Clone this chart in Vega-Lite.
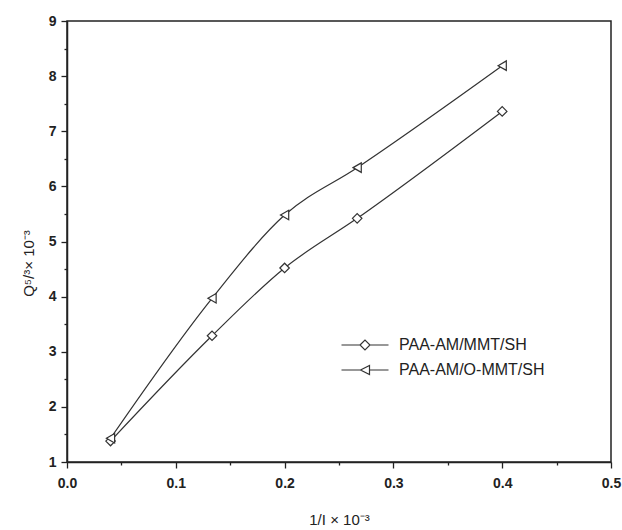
{
  "$schema": "https://vega.github.io/schema/vega-lite/v6.json",
  "autosize": {"type": "none"},
  "width": 544,
  "height": 441,
  "padding": {"left": 67, "top": 21, "right": 11, "bottom": 68},
  "background": "white",
  "config": {
    "font": "Liberation Sans",
    "view": {"stroke": "#222", "strokeWidth": 1.5},
    "axis": {
      "domainColor": "#222",
      "domainWidth": 1.5,
      "tickColor": "#222",
      "tickWidth": 1.3,
      "grid": false,
      "labelFont": "Liberation Sans",
      "labelFontSize": 14,
      "labelFontWeight": "bold",
      "labelColor": "#222",
      "titleFont": "Liberation Sans",
      "titleFontSize": 15,
      "titleFontWeight": "normal",
      "titleColor": "#222"
    }
  },
  "data": {
    "values": [
      {"inv_i": 0.04, "q": 1.38, "series": "PAA-AM/MMT/SH"},
      {"inv_i": 0.1333, "q": 3.29, "series": "PAA-AM/MMT/SH"},
      {"inv_i": 0.2, "q": 4.52, "series": "PAA-AM/MMT/SH"},
      {"inv_i": 0.2667, "q": 5.42, "series": "PAA-AM/MMT/SH"},
      {"inv_i": 0.4, "q": 7.36, "series": "PAA-AM/MMT/SH"},
      {"inv_i": 0.04, "q": 1.43, "series": "PAA-AM/O-MMT/SH"},
      {"inv_i": 0.1333, "q": 3.97, "series": "PAA-AM/O-MMT/SH"},
      {"inv_i": 0.2, "q": 5.48, "series": "PAA-AM/O-MMT/SH"},
      {"inv_i": 0.2667, "q": 6.34, "series": "PAA-AM/O-MMT/SH"},
      {"inv_i": 0.4, "q": 8.19, "series": "PAA-AM/O-MMT/SH"}
    ]
  },
  "encoding": {
    "x": {
      "field": "inv_i",
      "type": "quantitative",
      "scale": {"domain": [0, 0.5], "nice": false, "zero": false},
      "axis": {
        "title": "1/I × 10⁻³",
        "values": [0, 0.05, 0.1, 0.15, 0.2, 0.25, 0.3, 0.35, 0.4, 0.45, 0.5],
        "labelExpr": "abs(datum.value * 10 - round(datum.value * 10)) < 0.001 ? format(datum.value, '.1f') : ''",
        "tickSize": {"condition": {"test": "abs(datum.value * 10 - round(datum.value * 10)) < 0.001", "value": 6}, "value": 3},
        "labelPadding": 8,
        "titlePadding": 22,
        "labelFlush": false
      }
    },
    "y": {
      "field": "q",
      "type": "quantitative",
      "scale": {"domain": [1, 9], "nice": false, "zero": false},
      "axis": {
        "title": "Q⁵/³× 10⁻³",
        "titleY": 242,
        "values": [1, 1.5, 2, 2.5, 3, 3.5, 4, 4.5, 5, 5.5, 6, 6.5, 7, 7.5, 8, 8.5, 9],
        "labelExpr": "datum.value % 1 === 0 ? format(datum.value, 'd') : ''",
        "tickSize": {"condition": {"test": "datum.value % 1 === 0", "value": 6}, "value": 3},
        "labelPadding": 5,
        "titlePadding": 12,
        "labelFlush": false
      }
    }
  },
  "layer": [
    {
      "mark": {"type": "line", "interpolate": "monotone", "color": "#333", "strokeWidth": 1.2},
      "encoding": {"detail": {"field": "series"}}
    },
    {
      "mark": {"type": "point", "filled": false, "fill": "white", "fillOpacity": 1, "stroke": "#333", "strokeWidth": 1.2, "size": 90, "opacity": 1},
      "encoding": {
        "shape": {
          "field": "series",
          "type": "nominal",
          "scale": {"domain": ["PAA-AM/MMT/SH", "PAA-AM/O-MMT/SH"], "range": ["diamond", "triangle-left"]},
          "legend": null
        }
      }
    },
    {
      "transform": [{"filter": "datum.q > 100"}],
      "mark": {"type": "point", "filled": false, "color": "#333", "strokeWidth": 1.2, "opacity": 1},
      "encoding": {
        "shape": {
          "field": "series",
          "type": "nominal",
          "scale": {
            "domain": ["PAA-AM/MMT/SH", "PAA-AM/O-MMT/SH"],
            "range": [
              "M-4.7,0L-1,0M1,0L4.7,0M-1,0L0,-1L1,0L0,1Z",
              "M-4.7,0L-0.9,0M0.9,0L4.7,0M-0.9,0L0.9,-0.9L0.9,0.9Z"
            ]
          },
          "legend": {
            "title": null,
            "orient": "none",
            "legendX": 290,
            "legendY": 316,
            "labelFontSize": 16,
            "labelFont": "Liberation Sans",
            "labelColor": "#222",
            "labelOffset": 26,
            "rowPadding": 9,
            "symbolSize": 100,
            "symbolStrokeWidth": 1.2,
            "symbolStrokeColor": "#333"
          }
        }
      }
    }
  ],
  "resolve": {"scale": {"shape": "independent"}}
}
